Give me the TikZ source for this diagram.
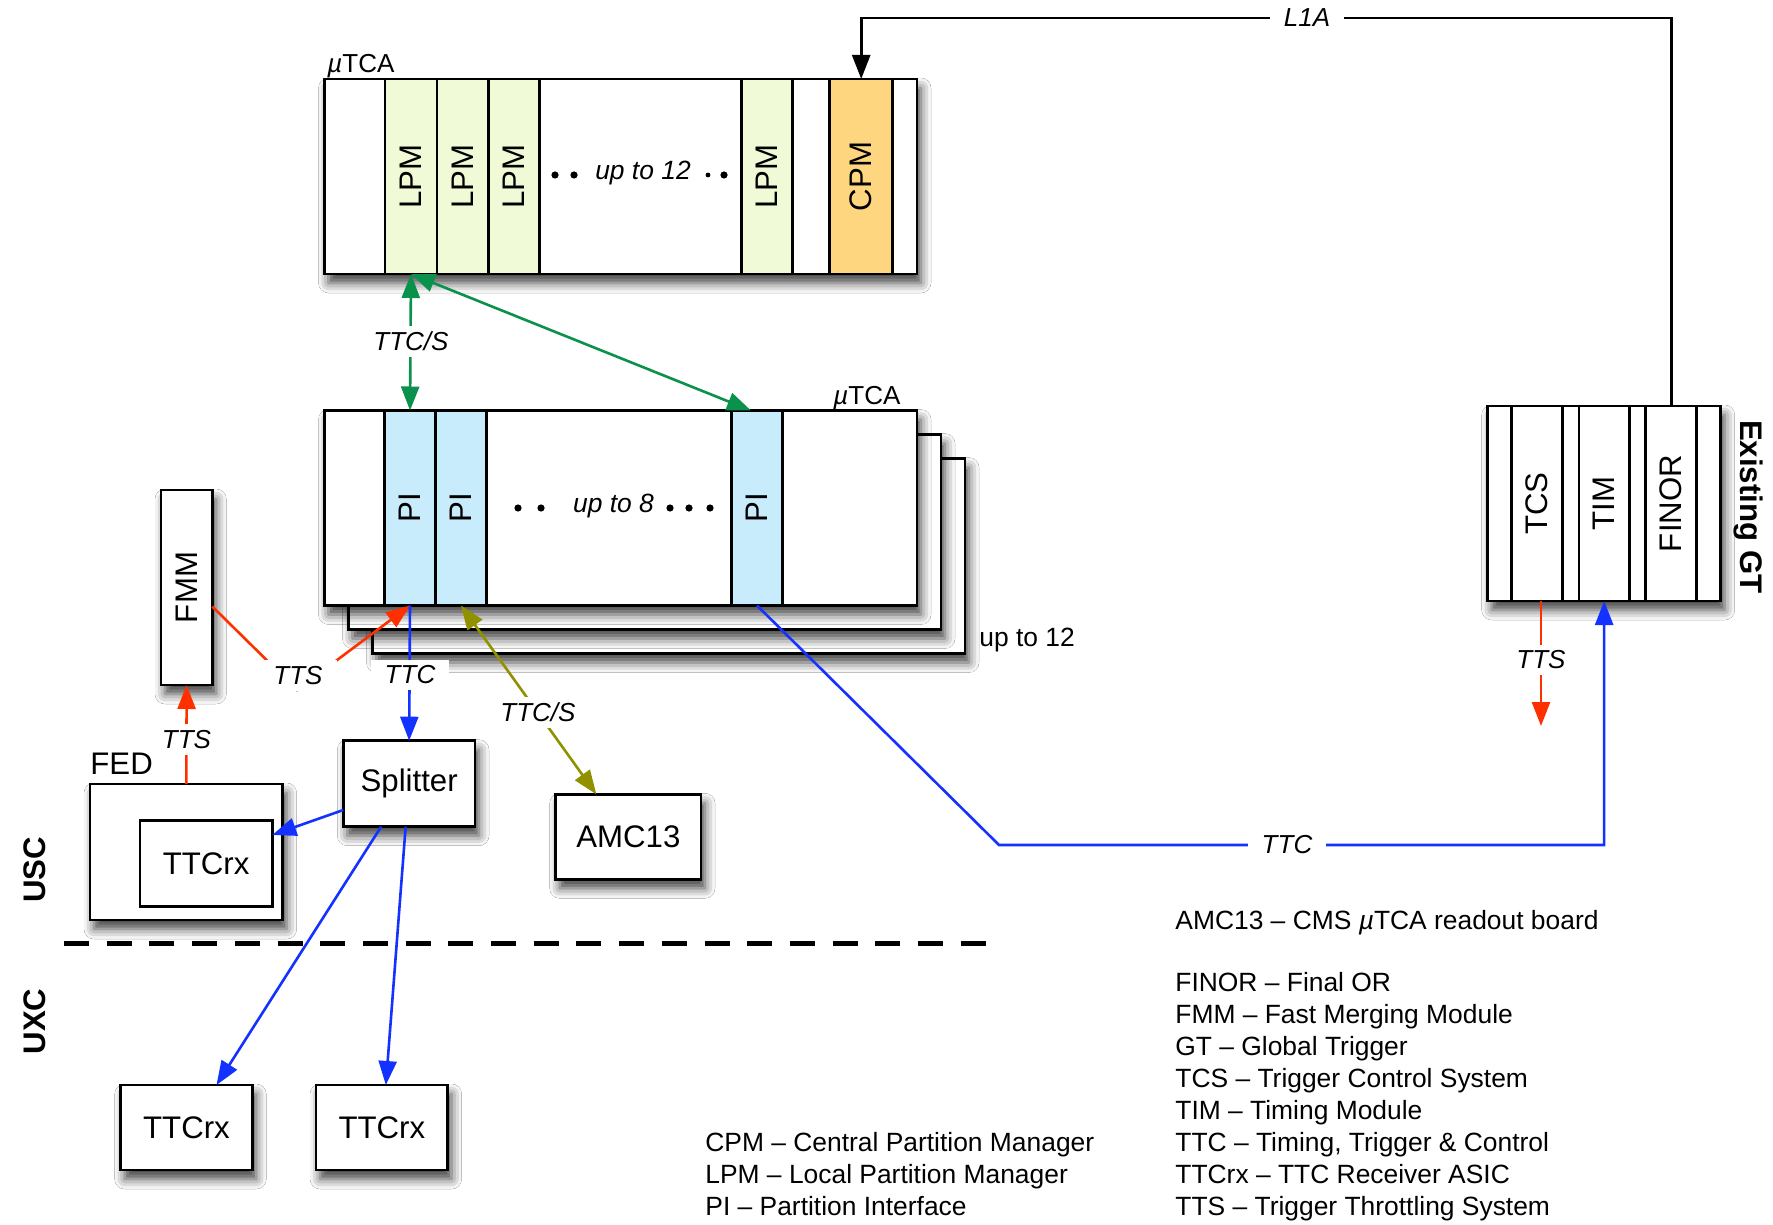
\documentclass[tikz,border=0pt]{standalone}
\usepackage{fontspec}
\setmainfont{Liberation Sans}
\usetikzlibrary{arrows.meta,calc,shadows.blur}
\definecolor{lpmc}{RGB}{240,250,214}
\definecolor{cpmc}{RGB}{255,214,128}
\definecolor{pic}{RGB}{200,236,252}
\definecolor{grc}{RGB}{10,145,75}
\definecolor{rdc}{RGB}{255,48,0}
\definecolor{blc}{RGB}{20,50,255}
\definecolor{olc}{RGB}{145,145,0}
\begin{document}
\begin{tikzpicture}[x=0.5pt,y=-0.5pt,
  boxst/.style={draw, line width=1.3pt, fill=white, inner sep=0pt, outer sep=0pt},
  shad/.style={blur shadow={shadow xshift=2pt, shadow yshift=-4.5pt, shadow blur radius=5pt, shadow opacity=75}},
  slotst/.style={draw, line width=1.3pt, inner sep=0pt, outer sep=0pt, minimum height=97.5pt},
  bigf/.style={font=\fontsize{15.6}{18}\selectfont},
  bigb/.style={font=\fontsize{15.6}{18}\selectfont\bfseries},
  smallf/.style={font=\fontsize{13.2}{15.8}\selectfont},
  smalli/.style={font=\fontsize{13.2}{15.8}\selectfont\itshape},
  lab/.style={fill=white, inner xsep=7pt, inner ysep=3pt, font=\fontsize{13}{15}\selectfont\itshape},
  conn/.style={line width=1.3pt},
  arrowone/.style={-{Triangle[length=12pt,width=9pt]}},
  arrowtwo/.style={{Triangle[length=12pt,width=9pt]}-{Triangle[length=12pt,width=9pt]}},
  legst/.style={font=\fontsize{13.2}{15.8}\selectfont, anchor=base west, inner sep=0pt}
]
\useasboundingbox (0,0) rectangle (1773,1225);
\fill[white] (0,0) rectangle (1773,1225);

% ---------- top uTCA crate ----------
\node[boxst, shad, minimum width=296.25pt, minimum height=97.5pt] (crateA) at (620.75,176.5) {};
\node[slotst, fill=lpmc, minimum width=26pt] (L1) at (411,176.5) {};
\node[slotst, fill=lpmc, minimum width=26pt] (L2) at (463,176.5) {};
\node[slotst, fill=lpmc, minimum width=25.5pt] (L3) at (514,176.5) {};
\node[slotst, fill=lpmc, minimum width=25.5pt] (L4) at (767,176.5) {};
\node[slotst, fill=cpmc, minimum width=31.5pt] (CPM) at (861.2,176.5) {};
\node[bigf, rotate=90] (tL1) at (L1) {LPM};
\node[bigf, rotate=90] (tL2) at (L2) {LPM};
\node[bigf, rotate=90] (tL3) at (L3) {LPM};
\node[bigf, rotate=90] (tL4) at (L4) {LPM};
\node[bigf, rotate=90] (tCPM) at (CPM) {CPM};
\node[anchor=base west, inner sep=0pt, font=\fontsize{13}{15}\selectfont] (muA) at (327,73) {{\itshape µ}TCA};
\node[anchor=base, inner sep=0pt, smalli] (upA) at (643,180) {up to 12};
\fill (555,175) circle (1.8pt) (574,175) circle (1.8pt) (708,175) circle (1.2pt) (724,175) circle (1.8pt);

% ---------- lower uTCA crates ----------
\node[boxst, shad, minimum width=296.25pt, minimum height=97.5pt] (crateD) at (668.75,556) {};
\node[boxst, shad, minimum width=296.25pt, minimum height=97.5pt] (crateC) at (644.75,532) {};
\node[boxst, shad, minimum width=296.25pt, minimum height=97.5pt] (crateB) at (620.75,508) {};
\node[slotst, fill=pic, minimum width=25.5pt] (P1) at (410,508) {};
\node[slotst, fill=pic, minimum width=25.5pt] (P2) at (461,508) {};
\node[slotst, fill=pic, minimum width=25.5pt] (P3) at (757,508) {};
\node[bigf, rotate=90] (tP1) at (P1) {PI};
\node[bigf, rotate=90] (tP2) at (P2) {PI};
\node[bigf, rotate=90] (tP3) at (P3) {PI};
\node[anchor=base west, inner sep=0pt, font=\fontsize{13}{15}\selectfont] (muB) at (833,404) {{\itshape µ}TCA};
\node[anchor=base, inner sep=0pt, smalli] (upB) at (613.5,512.5) {up to 8};
\fill (518,508) circle (1.8pt) (541,508) circle (1.8pt) (670,508) circle (1.8pt) (689,508) circle (1.8pt) (710,508) circle (1.8pt);
\node[anchor=base west, inner sep=0pt, smallf] (upC) at (979,646) {up to 12};

% ---------- left side ----------
\node[boxst, shad, minimum width=25.65pt, minimum height=97.5pt] (FMM) at (186.65,587.5) {};
\node[bigf, rotate=90] (tFMM) at (FMM) {FMM};
\node[boxst, shad, minimum width=96.35pt, minimum height=68pt] (FED) at (186.35,852) {};
\node[boxst, bigf, minimum width=66.15pt, minimum height=43pt] (TTCin) at (206.15,863.7) {TTCrx};
\node[anchor=base west, inner sep=0pt, bigf] (tFED) at (90,774) {FED};
\node[boxst, shad, bigf, minimum width=65.85pt, minimum height=43pt] (Spl) at (409.15,783.7) {Splitter};
\node[boxst, shad, bigf, minimum width=72.65pt, minimum height=42.5pt] (AMC) at (628.35,836.8) {AMC13};
\node[boxst, shad, bigf, minimum width=65.8pt, minimum height=42.5pt] (TA) at (186.5,1127.5) {TTCrx};
\node[boxst, shad, bigf, minimum width=65.8pt, minimum height=42.5pt] (TB) at (381.85,1127.5) {TTCrx};
\node[bigb, rotate=90] (usc) at (35,870) {USC};
\node[bigb, rotate=90] (uxc) at (35,1021.5) {UXC};

% ---------- existing GT ----------
\node[boxst, shad, minimum width=116.5pt, minimum height=97.5pt] (GT) at (1604.2,503.5) {};
\node[slotst, fill=white, minimum width=25.3pt] (TCS) at (1537,503.5) {};
\node[slotst, fill=white, minimum width=25.15pt] (TIM) at (1604.15,503.5) {};
\node[slotst, fill=white, minimum width=25.5pt] (FINOR) at (1671.2,503.5) {};
\node[bigf, rotate=90] (tTCS) at (TCS) {TCS};
\node[bigf, rotate=90] (tTIM) at (TIM) {TIM};
\node[bigf, rotate=90] (tFINOR) at (FINOR) {FINOR};
\node[bigb, rotate=-90] (tGT) at (1748,506.7) {Existing GT};

% ---------- connectors ----------
\coordinate (topy) at (0,18);
\draw[conn, arrowone] (FINOR.north) -- (FINOR.north |- topy) -- (CPM.north |- topy) -- (CPM.north);
\node[lab] (lL1A) at (1307,18) {L1A};

\draw[conn, grc, arrowtwo] (L1.south) -- (P1.north);
\node[lab, inner xsep=1pt] (lTTCS1) at (411,341.7) {TTC/S};
\draw[conn, grc, arrowtwo] (L1.south) -- ($(P3.north)+(-6,0)$);

\draw[conn, olc, arrowtwo] (P2.south) -- ($(AMC.north)+(-32,0)$);
\node[lab, inner xsep=1pt] (lTTCS2) at (538,712.7) {TTC/S};

\coordinate (rc) at (297,690);
\draw[conn, rdc, arrowone] ($(FMM.east)+(0,19)$) -- (rc) -- (P1.south);
\node[lab] (lTTS1) at (298,675.5) {TTS};

\draw[conn, blc, arrowone] (P1.south) -- (Spl.north);
\node[lab] (lTTC1) at (410,675) {TTC};

\draw[conn, rdc, arrowone] (FED.north) -- (FMM.south);
\node[lab, inner xsep=1pt] (lTTS2) at (186.5,739.3) {TTS};

\draw[conn, blc, arrowone] ($(Spl.south west)+(0,-16.7)$) -- ($(TTCin.north east)+(0,14.3)$);
\draw[conn, blc, arrowone] ($(Spl.south)+(-28,0)$) -- ($(TA.north)+(30,0)$);
\draw[conn, blc, arrowone] ($(Spl.south)+(-3.5,0)$) -- ($(TB.north)+(4,0)$);

\coordinate (b1) at (999,845);
\draw[conn, blc, arrowone] (P3.south) -- (b1) -- (TIM.south |- b1) -- (TIM.south);
\node[lab] (lTTC2) at (1287,845) {TTC};

\coordinate (ttsend) at ($(TCS.south)+(4,125)$);
\draw[conn, rdc, arrowone] ($(TCS.south)+(4,0)$) -- (ttsend);
\node[lab, inner xsep=1pt] (lTTS3) at (1541,660) {TTS};

% ---------- USC / UXC separator ----------
\coordinate (dl) at (64,943);
\coordinate (dr) at (987,943);
\draw[line width=2.5pt, dash pattern=on 12.5pt off 8.85pt] (dl) -- (dr);

% ---------- legend ----------
\node[legst] (g1) at (705,1151.7) {CPM – Central Partition Manager};
\node[legst] (g2) at (705,1183.3) {LPM – Local Partition Manager};
\node[legst] (g3) at (705,1215) {PI – Partition Interface};
\node[legst] (h0) at (1175,929.3) {AMC13 – CMS {\itshape µ}TCA readout board};
\node[legst] (h1) at (1175,991.7) {FINOR – Final OR};
\node[legst] (h2) at (1175,1023.3) {FMM – Fast Merging Module};
\node[legst] (h3) at (1175,1055.7) {GT – Global Trigger};
\node[legst] (h4) at (1175,1087.3) {TCS – Trigger Control System};
\node[legst] (h5) at (1175,1119.3) {TIM – Timing Module};
\node[legst] (h6) at (1175,1151.7) {TTC – Timing, Trigger \& Control};
\node[legst] (h7) at (1175,1183.3) {TTCrx – TTC Receiver ASIC};
\node[legst] (h8) at (1175,1215) {TTS – Trigger Throttling System};
\end{tikzpicture}
\end{document}
